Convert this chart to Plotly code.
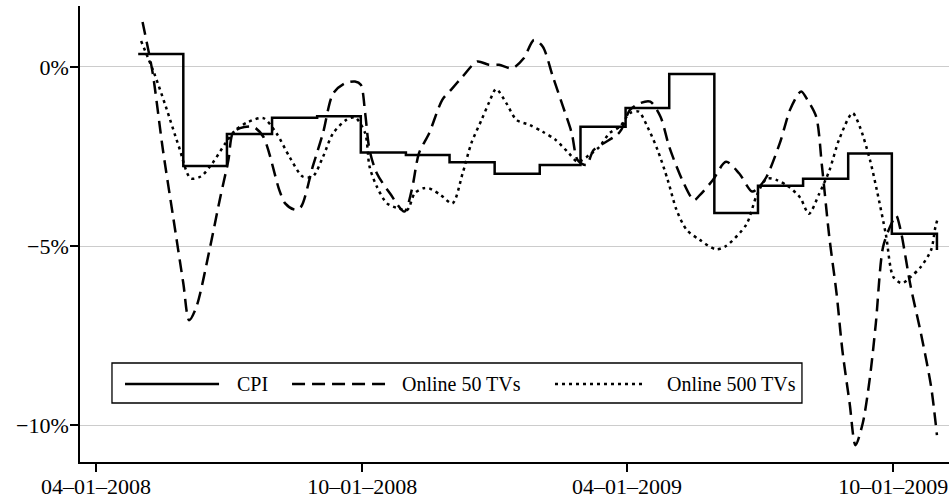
import plotly.graph_objects as go

# ---------------- data ----------------
cpi_dates = ["2008-04-30", "2008-05-31", "2008-06-30", "2008-07-31", "2008-08-31",
             "2008-09-30", "2008-10-31", "2008-11-30", "2008-12-31", "2009-01-31",
             "2009-02-28", "2009-03-31", "2009-04-30", "2009-05-31", "2009-06-30",
             "2009-07-31", "2009-08-31", "2009-09-30", "2009-10-31"]
cpi_values = [0.36, -2.77, -1.87, -1.42, -1.38, -2.39, -2.46, -2.66, -2.98, -2.74,
              -1.67, -1.15, -0.20, -4.08, -3.32, -3.12, -2.42, -4.66, -5.11]

tv50_dates = ["2008-05-03", "2008-05-06", "2008-05-10", "2008-05-17", "2008-05-24",
              "2008-05-31", "2008-06-04", "2008-06-09", "2008-06-18", "2008-06-25",
              "2008-07-01", "2008-07-04", "2008-07-09", "2008-07-18", "2008-07-25",
              "2008-08-05", "2008-08-09", "2008-08-16", "2008-08-20", "2008-08-28",
              "2008-09-04", "2008-09-11", "2008-09-19", "2008-09-26", "2008-09-30",
              "2008-10-03", "2008-10-06", "2008-10-11", "2008-10-20", "2008-10-30",
              "2008-11-04", "2008-11-09", "2008-11-16", "2008-11-25", "2008-12-01",
              "2008-12-09", "2008-12-19", "2008-12-27", "2009-01-03", "2009-01-12",
              "2009-01-20", "2009-01-27", "2009-02-02", "2009-02-09", "2009-02-16",
              "2009-02-22", "2009-02-26", "2009-03-04", "2009-03-09", "2009-03-16",
              "2009-03-25", "2009-03-28", "2009-04-03", "2009-04-10", "2009-04-17",
              "2009-04-24", "2009-04-30", "2009-05-09", "2009-05-17", "2009-05-21",
              "2009-05-30", "2009-06-08", "2009-06-17", "2009-06-26", "2009-07-01",
              "2009-07-06", "2009-07-15", "2009-07-22", "2009-07-28", "2009-07-30",
              "2009-08-03", "2009-08-09", "2009-08-13", "2009-08-18", "2009-08-23",
              "2009-08-27", "2009-09-01", "2009-09-05", "2009-09-10", "2009-09-15",
              "2009-09-19", "2009-09-24", "2009-09-30", "2009-10-03", "2009-10-06",
              "2009-10-13", "2009-10-20", "2009-10-27", "2009-10-31"]
tv50_values = [1.25, 0.66, -0.18, -2.32, -4.18,
               -6.04, -7.07, -6.70, -5.11, -3.72,
               -2.60, -1.85, -1.71, -1.67, -1.95,
               -3.44, -3.81, -3.99, -3.90, -2.78,
               -1.85, -0.74, -0.46, -0.41, -0.50,
               -1.29, -2.32, -2.97, -3.53, -4.04,
               -3.44, -2.41, -1.85, -0.92, -0.64,
               -0.27, 0.15, 0.06, 0.06, -0.04,
               0.24, 0.75, 0.57, -0.27, -1.11,
               -1.85, -2.60, -2.74, -2.32, -2.13,
               -1.90, -1.76, -1.20, -1.01, -0.97,
               -1.39, -2.23, -3.16, -3.72, -3.58,
               -3.16, -2.65, -2.97, -3.48, -3.34,
               -3.06, -2.13, -1.20, -0.74, -0.69,
               -0.92, -1.39, -2.78, -4.74, -6.32,
               -7.91, -9.39, -10.56, -9.95, -8.65,
               -7.16, -5.02, -4.35, -4.15, -4.55,
               -6.14, -7.44, -8.93, -10.28]

tv500_dates = ["2008-05-02", "2008-05-11", "2008-05-19", "2008-05-28", "2008-06-05",
               "2008-06-12", "2008-06-20", "2008-06-29", "2008-07-06", "2008-07-15",
               "2008-07-25", "2008-08-03", "2008-08-12", "2008-08-21", "2008-08-28",
               "2008-09-04", "2008-09-11", "2008-09-20", "2008-09-26", "2008-10-03",
               "2008-10-06", "2008-10-11", "2008-10-18", "2008-10-26", "2008-11-01",
               "2008-11-06", "2008-11-12", "2008-11-16", "2008-11-24", "2008-12-02",
               "2008-12-09", "2008-12-15", "2008-12-22", "2008-12-27", "2009-01-01",
               "2009-01-08", "2009-01-15", "2009-01-24", "2009-02-02", "2009-02-11",
               "2009-02-20", "2009-02-26", "2009-03-06", "2009-03-13", "2009-03-20",
               "2009-03-27", "2009-04-03", "2009-04-09", "2009-04-15", "2009-04-22",
               "2009-04-29", "2009-05-05", "2009-05-12", "2009-05-21", "2009-06-01",
               "2009-06-08", "2009-06-22", "2009-06-29", "2009-07-06", "2009-07-13",
               "2009-07-21", "2009-07-29", "2009-08-04", "2009-08-11", "2009-08-18",
               "2009-08-25", "2009-09-03", "2009-09-08", "2009-09-15", "2009-09-20",
               "2009-09-26", "2009-10-01", "2009-10-07", "2009-10-13", "2009-10-20",
               "2009-10-27", "2009-10-30", "2009-11-01"]
tv500_values = [0.72, -0.18, -1.11, -2.23, -3.11,
                -3.06, -2.69, -2.13, -1.76, -1.53,
                -1.43, -1.85, -2.51, -3.06, -3.06,
                -2.51, -1.85, -1.48, -1.41, -1.85,
                -2.78, -3.34, -3.81, -3.95, -3.99,
                -3.53, -3.39, -3.39, -3.58, -3.81,
                -2.97, -2.13, -1.48, -1.01, -0.62,
                -1.01, -1.48, -1.62, -1.81, -2.04,
                -2.41, -2.65, -2.46, -2.23, -1.85,
                -1.67, -1.29, -1.25, -1.67, -2.32,
                -3.16, -3.99, -4.55, -4.83, -5.09,
                -5.00, -4.40, -3.60, -3.12, -3.16,
                -3.34, -3.65, -4.10, -3.55, -2.90,
                -2.00, -1.29, -1.67, -2.60, -3.50,
                -4.70, -5.86, -6.04, -5.86, -5.58,
                -5.11, -4.46, -4.18]

x_tick_dates = ["2008-04-01", "2008-10-01", "2009-04-01", "2009-10-01"]
x_tick_labels = ["04\u201301\u20132008", "10\u201301\u20132008", "04\u201301\u20132009", "10\u201301\u20132009"]
y_tick_values = [0, -5, -10]
y_tick_labels = ["0%", "\u22125%", "\u221210%"]
series_names = ["CPI", "Online 50 TVs", "Online 500 TVs"]

# ---------------- figure ----------------
FONT = "Liberation Serif"
LW = 2.5
DASH = "13px,7px"
DOT = "3px,4px"

fig = go.Figure()
fig.add_trace(go.Scatter(x=cpi_dates, y=cpi_values, mode="lines", name=series_names[0],
                         line=dict(color="black", width=LW, shape="hv"), showlegend=False))
fig.add_trace(go.Scatter(x=tv50_dates, y=tv50_values, mode="lines", name=series_names[1],
                         line=dict(color="black", width=LW, dash=DASH, shape="spline", smoothing=0.8),
                         showlegend=False))
fig.add_trace(go.Scatter(x=tv500_dates, y=tv500_values, mode="lines", name=series_names[2],
                         line=dict(color="black", width=LW, dash=DOT, shape="spline", smoothing=0.8),
                         showlegend=False))

# custom legend box (drawn in paper coordinates)
legend_box = dict(x0=0.0368, x1=0.8308, y0=0.1294, y1=0.2171)
legend_y = 0.171
samples = [(0.0518, 0.1600, None, 0.1784),
           (0.2440, 0.3510, DASH, 0.3682),
           (0.5466, 0.6500, DOT, 0.6732)]
shapes = [dict(type="rect", xref="paper", yref="paper", line=dict(color="black", width=1.3),
               fillcolor="white", layer="above", **legend_box)]
annotations = []
for (sx0, sx1, dash, tx), name in zip(samples, series_names):
    ln = dict(color="black", width=LW)
    if dash:
        ln["dash"] = dash
    shapes.append(dict(type="line", xref="paper", yref="paper", x0=sx0, x1=sx1,
                       y0=legend_y, y1=legend_y, line=ln, layer="above"))
    annotations.append(dict(xref="paper", yref="paper", x=tx, y=legend_y, text=name,
                            showarrow=False, xanchor="left", yanchor="middle",
                            font=dict(family=FONT, size=20, color="black")))

fig.update_layout(
    width=949, height=500,
    margin=dict(l=80, r=0, t=6, b=38, autoexpand=False),
    paper_bgcolor="white", plot_bgcolor="white",
    font=dict(family=FONT, size=22, color="black"),
    shapes=shapes, annotations=annotations,
    showlegend=False,
)
fig.update_xaxes(
    type="date", range=["2008-03-21", "2009-11-08 07:00"], automargin=False,
    tickvals=x_tick_dates, ticktext=x_tick_labels,
    showgrid=False, zeroline=False,
    showline=True, linecolor="black", linewidth=1.5,
    ticks="outside", ticklen=8, tickwidth=1.5, tickcolor="black",
    ticklabelstandoff=-4,
    tickfont=dict(family=FONT, size=22, color="black"),
)
fig.update_yaxes(
    range=[-11.03, 1.70], automargin=False,
    tickvals=y_tick_values, ticktext=y_tick_labels,
    showgrid=True, gridcolor="#cccccc", gridwidth=1, zeroline=False,
    showline=True, linecolor="black", linewidth=1.5,
    ticks="outside", ticklen=8, tickwidth=1.5, tickcolor="black",
    ticklabelstandoff=-3,
    tickfont=dict(family=FONT, size=22, color="black"),
)

# the page's default 8px body margin would shift the figure; remove it
fig.write_html("out.html", config={"displayModeBar": False},
               post_script="document.body.style.margin='0';")
